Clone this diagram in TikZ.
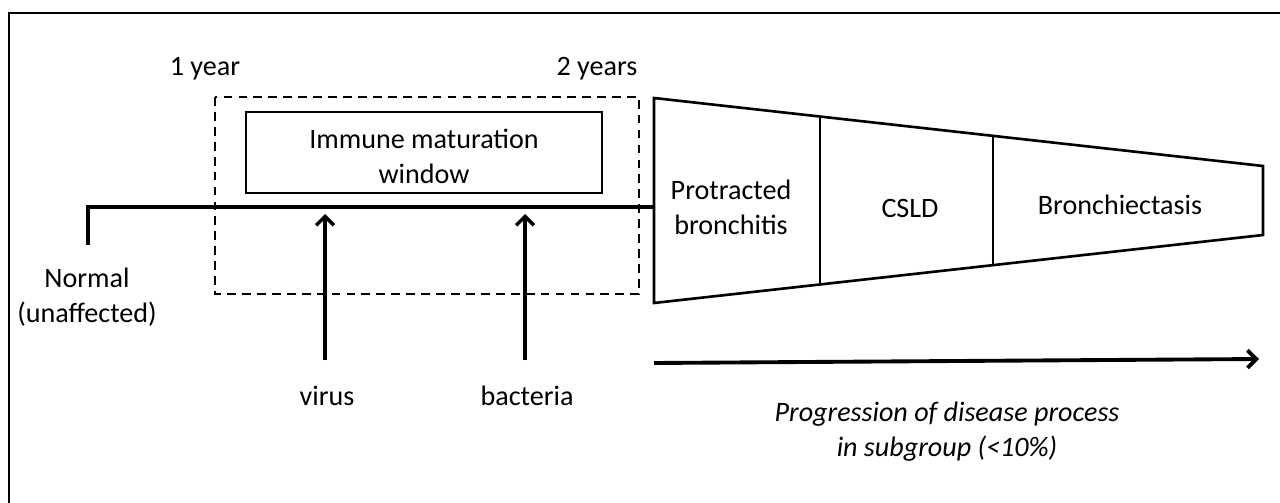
\documentclass[tikz,border=0pt]{standalone}
\usepackage{fontspec}
\setmainfont{Carlito}
\usetikzlibrary{arrows.meta}
\begin{document}
\begin{tikzpicture}[x=0.02cm, y=-0.02cm, >={Straight Barb[length=5pt,width=10pt]},
    every node/.style={font=\fontsize{16pt}{19.8pt}\selectfont, align=center, inner sep=0pt}]
    \useasboundingbox (0,0) rectangle (1280,503);

    % frame (only top and left show)
    \draw[line width=1.3pt] (9,503) -- (9,13) -- (1280,13);

    \node (oneyear) at (205,69) {1 year};
    \node (twoyears) at (597,69) {2 years};

    \draw[line width=1.4pt, dash pattern=on 5pt off 3.5pt] (215,97) rectangle (639,294);
    \draw[line width=1.4pt] (246,112) rectangle (602,193);
    \node (window) at (424,156) {Immune maturation\\window};

    % timeline
    \draw[line width=2.2pt] (88,245) -- (88,207) -- (653,207);
    \node (normal) at (87,297) {Normal\\(unaffected)};

    % disease stages
    \draw[line width=1.5pt, line join=miter] (654,98) -- (1263,166) -- (1263,235) -- (654,303) -- cycle;
    \draw[line width=1.5pt] (820,116.5) -- (820,284.5);
    \draw[line width=1.5pt] (993,136) -- (993,265);
    \node (prot) at (731,207) {Protracted\\bronchitis};
    \node (csld) at (910,208) {CSLD};
    \node (bronch) at (1120,205) {Bronchiectasis};

    % triggers
    \node (virus) at (327,396) {virus};
    \node (bacteria) at (527,396) {bacteria};
    \coordinate (vtail) at (325,360);
    \coordinate (vhead) at (325,214);
    \coordinate (btail) at (525,360);
    \coordinate (bhead) at (525,214);
    \draw[->, line width=2pt] (vtail) -- (vhead);
    \draw[->, line width=2pt] (btail) -- (bhead);

    % progression
    \coordinate (pstart) at (654,363);
    \coordinate (pend) at (1259,359);
    \draw[->, line width=2.2pt] (pstart) -- (pend);
    \node[font=\fontsize{16pt}{19.8pt}\selectfont\itshape] (progress) at (947,432)
        {Progression of disease process\\in subgroup (<10\%)};
\end{tikzpicture}
\end{document}
